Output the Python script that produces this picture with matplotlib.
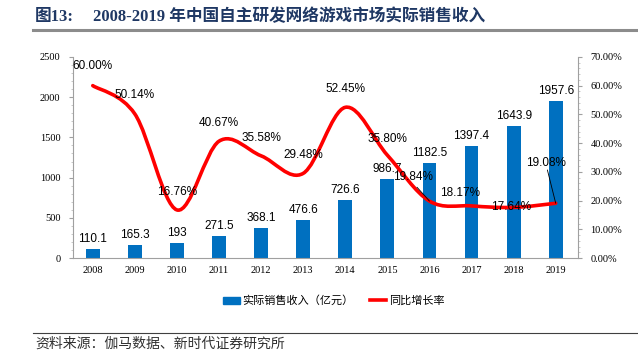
import numpy as np
import matplotlib
matplotlib.use("Agg")
import matplotlib.pyplot as plt
from matplotlib.path import Path
from matplotlib.patches import PathPatch, Patch
from matplotlib.lines import Line2D

plt.rcParams['font.family'] = ['Liberation Serif', 'Noto Sans CJK SC', 'DejaVu Sans']

years = ['2008', '2009', '2010', '2011', '2012', '2013', '2014', '2015', '2016', '2017', '2018', '2019']
revenue = [110.1, 165.3, 193, 271.5, 368.1, 476.6, 726.6, 986.7, 1182.5, 1397.4, 1643.9, 1957.6]
growth = [60.00, 50.14, 16.76, 40.67, 35.58, 29.48, 52.45, 35.80, 19.84, 18.17, 17.64, 19.08]
revenue_labels = ['110.1', '165.3', '193', '271.5', '368.1', '476.6', '726.6', '986.7', '1182.5', '1397.4', '1643.9', '1957.6']

BAR_COLOR = '#0070C0'
LINE_COLOR = '#FF0000'
TITLE_COLOR = '#1F3864'
LABEL_FONT = ['Liberation Sans', 'Noto Sans CJK SC']

fig = plt.figure(figsize=(6.38, 3.6), dpi=100)
ax = fig.add_axes([0.1144, 0.283, 0.7916, 0.559])
ax2 = ax.twinx()

x = np.arange(len(years))
ax.bar(x, revenue, width=0.33, color=BAR_COLOR, zorder=2)
ax.set_xlim(-0.47, 11.53)
ax.set_ylim(0, 2500)
ax.set_yticks(np.arange(0, 2501, 500))
ax.set_yticks(np.arange(0, 2501, 100), minor=True)
ax.set_xticks(x)
ax.set_xticklabels(years)
ax.tick_params(axis='x', length=0, labelsize=7.5, pad=6)
ax.tick_params(axis='y', which='major', length=3, labelsize=7.5, color='#A0A0A0', pad=6)
ax.tick_params(axis='y', which='minor', length=1.5, color='#C0C0C0')
for s in ['top', 'right']:
    ax.spines[s].set_visible(False)
ax.spines['left'].set_color('#A0A0A0')
ax.spines['bottom'].set_color('#A0A0A0')

for xi, v, lab in zip(x, revenue, revenue_labels):
    ax.text(xi, v + 50, lab, ha='center', va='bottom', fontsize=8.5, family=LABEL_FONT)

# smooth line, excel-like bezier through the points
g = np.array(growth)
n = len(g)
verts = [(x[0], g[0])]
codes = [Path.MOVETO]
for i in range(n - 1):
    p0 = np.array([x[max(i - 1, 0)], g[max(i - 1, 0)]])
    p1 = np.array([x[i], g[i]])
    p2 = np.array([x[i + 1], g[i + 1]])
    p3 = np.array([x[min(i + 2, n - 1)], g[min(i + 2, n - 1)]])
    c1 = p1 + (p2 - p0) / 6.0
    c2 = p2 - (p3 - p1) / 6.0
    verts += [tuple(c1), tuple(c2), tuple(p2)]
    codes += [Path.CURVE4, Path.CURVE4, Path.CURVE4]
ax2.add_patch(PathPatch(Path(verts, codes), fill=False, edgecolor=LINE_COLOR, lw=2.6, zorder=3, capstyle='round'))

ax2.set_ylim(0, 70)
ax2.set_yticks(np.arange(0, 71, 10))
ax2.set_yticks(np.arange(0, 71, 2), minor=True)
ax2.set_yticklabels(['%.2f%%' % t for t in np.arange(0, 71, 10)])
ax2.tick_params(axis='y', which='major', length=3, labelsize=7.5, color='#A0A0A0', pad=6)
ax2.tick_params(axis='y', which='minor', length=1.5, color='#C0C0C0')
for s in ['top', 'left', 'bottom']:
    ax2.spines[s].set_visible(False)
ax2.spines['right'].set_color('#A0A0A0')

# growth labels (offsets in points)
offsets = [(0, 14), (0, 14), (0, 13), (0, 13), (0, 13), (0, 13),
           (0, 13), (0, 12), (-12, 17), (-8, 9), (-2, 0), (-7, 29)]
for xi, v, (dx, dy) in zip(x, growth, offsets):
    ax2.annotate('%.2f%%' % v, (xi, v), xytext=(dx, dy), textcoords='offset points',
                 ha='center', va='center', fontsize=8.5, family=LABEL_FONT, zorder=5)

# leader lines
ax2.annotate('', (x[8], growth[8]), xytext=(-9, 10), textcoords='offset points',
             arrowprops=dict(arrowstyle='-', color='black', lw=0.6, shrinkA=0, shrinkB=0))
ax2.annotate('', (x[11], growth[11]), xytext=(-6, 24), textcoords='offset points',
             arrowprops=dict(arrowstyle='-', color='black', lw=0.6, shrinkA=0, shrinkB=0))

handles = [Patch(color=BAR_COLOR), Line2D([0], [0], color=LINE_COLOR, lw=2.6)]
fig.legend(handles, ['实际销售收入（亿元）', '同比增长率'], loc='center', bbox_to_anchor=(0.523, 0.164),
           ncol=2, frameon=False, prop={'family': ['Noto Sans CJK SC'], 'size': 8},
           handlelength=1.5, handleheight=0.7, columnspacing=1.5, handletextpad=0.2)

fig.text(0.055, 0.953, '图13:', fontsize=12, fontweight='bold', color=TITLE_COLOR, va='center')
fig.text(0.146, 0.953, '2008-2019 年中国自主研发网络游戏市场实际销售收入', fontsize=12,
         fontweight='bold', color=TITLE_COLOR, va='center')
fig.add_artist(Line2D([0.052, 1.0], [0.917, 0.917], color='#8C8C8C', lw=2.2, transform=fig.transFigure))
fig.add_artist(Line2D([0.052, 1.0], [0.075, 0.075], color='#404040', lw=0.8, transform=fig.transFigure))
fig.text(0.055, 0.044, '资料来源：伽马数据、新时代证券研究所', fontsize=10, color='#303030', va='center',
         family=['Noto Sans CJK SC'])

fig.savefig('out.png', dpi=100)
